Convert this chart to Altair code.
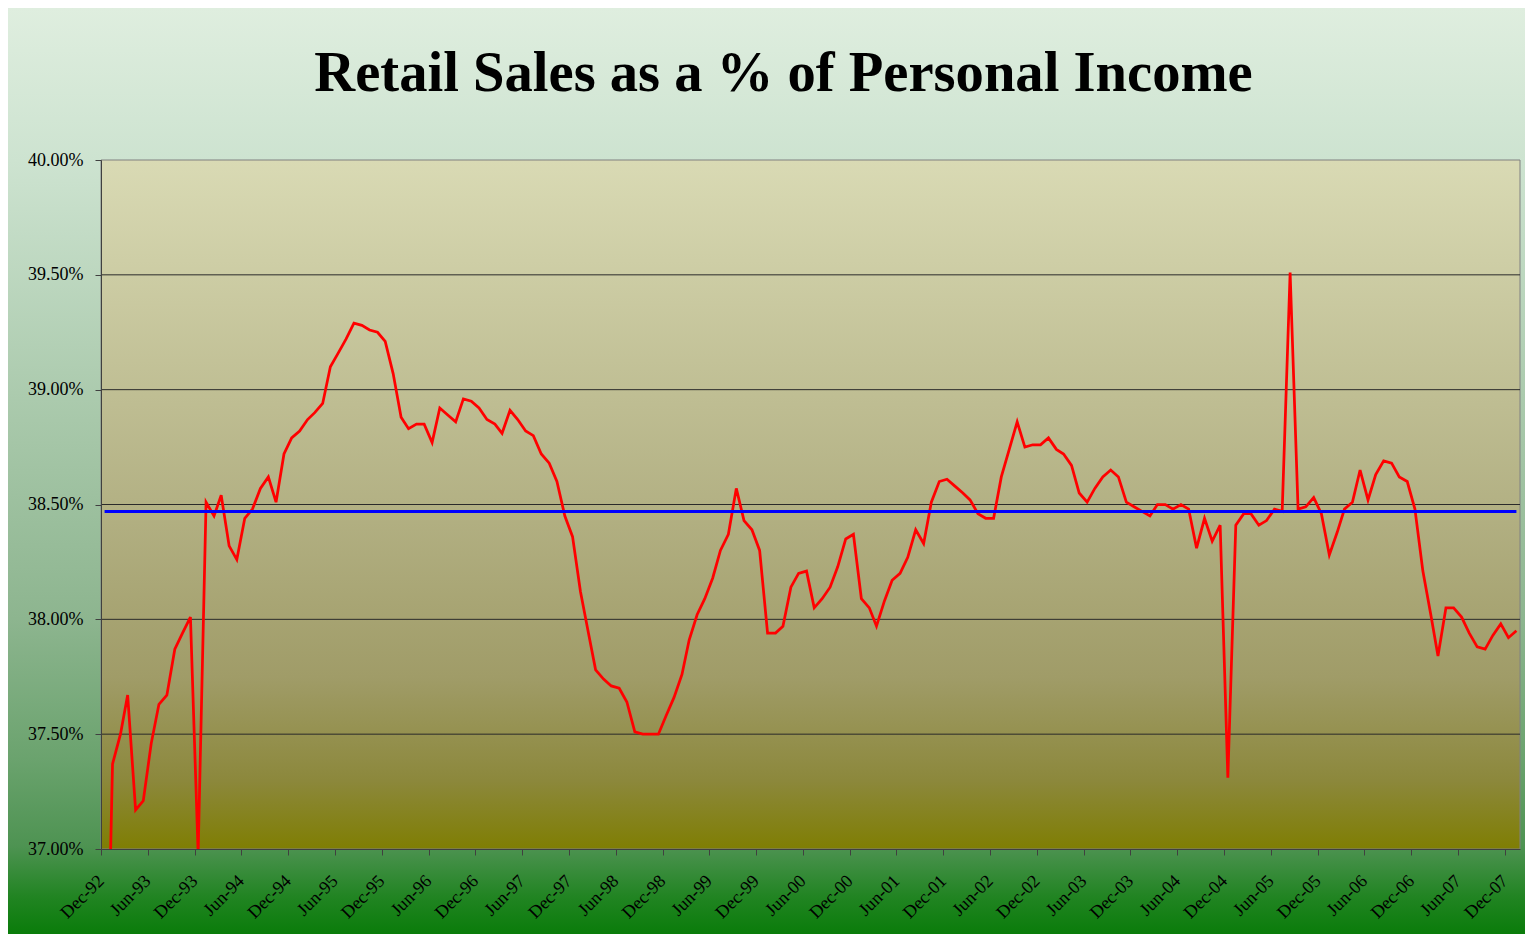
import altair as alt
import pandas as pd

# ---------------- data ----------------
TITLE = "Retail Sales as a % of Personal Income"
FIRST_MONTH = "1992-12-01"          # first observation (Dec-92)
SALES_PCT = [
    35.80, 37.37, 37.50, 37.67, 37.17, 37.21, 37.46, 37.63, 37.67, 37.87, 37.94, 38.01,
    36.98, 38.51, 38.45, 38.54, 38.32, 38.26, 38.44, 38.48, 38.57, 38.62, 38.51, 38.72,
    38.79, 38.82, 38.87, 38.90, 38.94, 39.10, 39.16, 39.22, 39.29, 39.28, 39.26, 39.25,
    39.21, 39.07, 38.88, 38.83, 38.85, 38.85, 38.77, 38.92, 38.89, 38.86, 38.96, 38.95,
    38.92, 38.87, 38.85, 38.81, 38.91, 38.87, 38.82, 38.80, 38.72, 38.68, 38.60, 38.45,
    38.36, 38.12, 37.94, 37.78, 37.74, 37.71, 37.70, 37.64, 37.51, 37.50, 37.50, 37.50,
    37.58, 37.66, 37.76, 37.91, 38.02, 38.09, 38.18, 38.30, 38.37, 38.57, 38.43, 38.39,
    38.30, 37.94, 37.94, 37.97, 38.14, 38.20, 38.21, 38.05, 38.09, 38.14, 38.23, 38.35,
    38.37, 38.09, 38.05, 37.97, 38.08, 38.17, 38.20, 38.27, 38.39, 38.33, 38.51, 38.60,
    38.61, 38.58, 38.55, 38.52, 38.46, 38.44, 38.44, 38.62, 38.74, 38.86, 38.75, 38.76,
    38.76, 38.79, 38.74, 38.72, 38.67, 38.55, 38.51, 38.57, 38.62, 38.65, 38.62, 38.51,
    38.49, 38.47, 38.45, 38.50, 38.50, 38.48, 38.50, 38.48, 38.31, 38.44, 38.34, 38.41,
    37.31, 38.41, 38.46, 38.46, 38.41, 38.43, 38.48, 38.47, 39.51, 38.48, 38.49, 38.53,
    38.46, 38.28, 38.38, 38.48, 38.51, 38.65, 38.52, 38.63, 38.69, 38.68, 38.62, 38.60,
    38.48, 38.21, 38.02, 37.84, 38.05, 38.05, 38.01, 37.94, 37.88, 37.87, 37.93, 37.98,
    37.92, 37.95,
]
AVERAGE_PCT = 38.47
Y_TICKS = [37.0, 37.5, 38.0, 38.5, 39.0, 39.5, 40.0]
X_TICK_LABELS = [
    "Dec-92", "Jun-93", "Dec-93", "Jun-94", "Dec-94", "Jun-95", "Dec-95", "Jun-96",
    "Dec-96", "Jun-97", "Dec-97", "Jun-98", "Dec-98", "Jun-99", "Dec-99", "Jun-00",
    "Dec-00", "Jun-01", "Dec-01", "Jun-02", "Dec-02", "Jun-03", "Dec-03", "Jun-04",
    "Dec-04", "Jun-05", "Dec-05", "Jun-06", "Dec-06", "Jun-07", "Dec-07",
]

# ---------------- tables ----------------
months = pd.date_range(FIRST_MONTH, periods=len(SALES_PCT), freq="MS") + pd.Timedelta(days=14)
df = pd.DataFrame({"date": months.strftime("%Y-%m-%d"), "pct": SALES_PCT})
avg_df = pd.DataFrame({"date": [df["date"].iloc[0]], "end": [df["date"].iloc[-1]], "pct": [AVERAGE_PCT]})
grid_df = pd.DataFrame({"pct": Y_TICKS[1:-1]})
one = pd.DataFrame({"k": [0]})

tick_dates = [pd.to_datetime(s, format="%b-%y") for s in X_TICK_LABELS]
x_values = [alt.DateTime(year=d.year, month=d.month, date=1, utc=True) for d in tick_dates]

# ---------------- geometry / style ----------------
W, H = 1419, 689
PAD = {"left": 93, "top": 152, "right": 5, "bottom": 85}
FONT = "Liberation Serif"

xscale = alt.Scale(type="utc", domain=[alt.DateTime(year=1992, month=12, date=1, utc=True),
                                         alt.DateTime(year=2008, month=1, date=29, utc=True)])
yscale = alt.Scale(domain=[37, 40], nice=False, zero=False)

x_axis = alt.Axis(values=x_values, format="%b-%y", labelAngle=-45, labelAlign="right",
                  labelBaseline="middle", labelPadding=23, labelFont=FONT, labelFontSize=18,
                  labelColor="#000000", labelFlush=False, labelOverlap=False, labelBound=False,
                  tickSize=6, tickColor="#404040", domainColor="#404040", grid=False, zindex=1,
                  title=None)
y_axis = alt.Axis(values=Y_TICKS, labelExpr="format(datum.value, '.2f') + '%'",
                  labelPadding=12, labelFont=FONT, labelFontSize=18, labelColor="#000000",
                  tickSize=6, tickColor="#404040", domainColor="#404040", grid=False, zindex=1,
                  title=None)

outer_grad = alt.Gradient(
    gradient="linear", x1=0, y1=0, x2=0, y2=1,
    stops=[
        alt.GradientStop(offset=0.0, color="#dfeedf"),
        alt.GradientStop(offset=0.165, color="#cde3d0"),
        alt.GradientStop(offset=0.445, color="#a8c8aa"),
        alt.GradientStop(offset=0.66, color="#8db58f"),
        alt.GradientStop(offset=0.81, color="#6ba36e"),
        alt.GradientStop(offset=0.905, color="#4e9352"),
        alt.GradientStop(offset=0.96, color="#218422"),
        alt.GradientStop(offset=1.0, color="#0a7c0a"),
    ],
)
plot_grad = alt.Gradient(
    gradient="linear", x1=0, y1=0, x2=0, y2=1,
    stops=[
        alt.GradientStop(offset=0.0, color="#d9dab4"),
        alt.GradientStop(offset=0.5, color="#b3b184"),
        alt.GradientStop(offset=0.75, color="#a09c68"),
        alt.GradientStop(offset=0.9, color="#8c883c"),
        alt.GradientStop(offset=1.0, color="#7f7e03"),
    ],
)

outer_bg = alt.Chart(one).mark_rect(fill=outer_grad, clip=False).encode(
    x=alt.value(-PAD["left"]), x2=alt.value(W + PAD["right"]),
    y=alt.value(-PAD["top"]), y2=alt.value(H + PAD["bottom"]),
)
plot_bg = alt.Chart(one).mark_rect(fill=plot_grad, stroke="#808080", strokeWidth=1).encode(
    x=alt.value(0), x2=alt.value(W), y=alt.value(0), y2=alt.value(H),
)
grid = alt.Chart(grid_df).mark_rule(color="#2a2a2a", strokeWidth=1).encode(
    x=alt.value(0), x2=alt.value(W),
    y=alt.Y("pct:Q", scale=yscale, axis=y_axis),
)

line = alt.Chart(df).mark_line(color="#ff0000", strokeWidth=2.75, clip=True).encode(
    x=alt.X("date:T", scale=xscale, axis=x_axis),
    y=alt.Y("pct:Q", scale=yscale, axis=y_axis),
)

avg = alt.Chart(avg_df).mark_rule(color="#0000ff", strokeWidth=3).encode(
    x=alt.X("date:T", scale=xscale, axis=x_axis), x2="end:T",
    y=alt.Y("pct:Q", scale=yscale, axis=y_axis),
)

title = alt.Chart(one).mark_text(
    text=TITLE, font=FONT, fontSize=56.6, fontWeight="bold", color="#000000",
    align="center", baseline="alphabetic",
).encode(x=alt.value(682.5), y=alt.value(-69))

chart = alt.layer(outer_bg, plot_bg, grid, line, avg, title).properties(
    width=W, height=H, padding=PAD,
    autosize=alt.AutoSizeParams(type="none"),
    background="white",
).configure_view(stroke=None)

chart.save("out.html", embed_options={"renderer": "svg", "actions": False})
